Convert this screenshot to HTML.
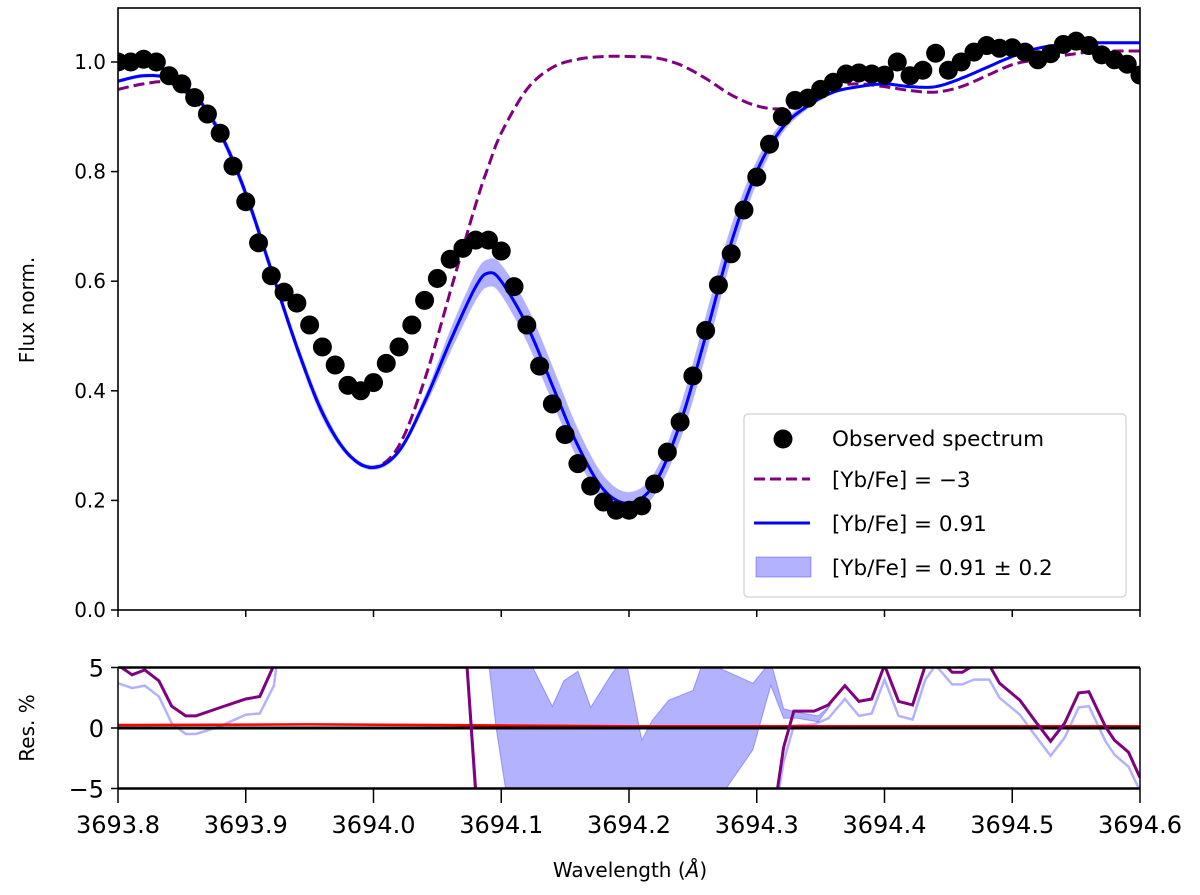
<!DOCTYPE html>
<html><head><meta charset="utf-8"><style>
html,body{margin:0;padding:0;background:#fff;}
svg{display:block;font-family:"DejaVu Sans","Liberation Sans",sans-serif;}
</style></head><body>
<svg id="chart" width="1200" height="895" viewBox="0 0 1200 895">
<defs>
<clipPath id="clipMain"><rect x="118" y="8" width="1022" height="602"/></clipPath>
<clipPath id="clipRes"><rect x="118" y="667" width="1022" height="121"/></clipPath>
</defs>
<g id="main"></g>
<g id="res"></g>
</svg>
<script>
// ---- data ----
const obsWave = [3693.80,3693.81,3693.82,3693.83,3693.84,3693.85,3693.86,3693.87,3693.88,3693.89,3693.90,3693.91,3693.92,3693.93,3693.94,3693.95,3693.96,3693.97,3693.98,3693.99,3694.00,3694.01,3694.02,3694.03,3694.04,3694.05,3694.06,3694.07,3694.08,3694.09,3694.10,3694.11,3694.12,3694.13,3694.14,3694.15,3694.16,3694.17,3694.18,3694.19,3694.20,3694.21,3694.22,3694.23,3694.24,3694.25,3694.26,3694.27,3694.28,3694.29,3694.30,3694.31,3694.32,3694.33,3694.34,3694.35,3694.36,3694.37,3694.38,3694.39,3694.40,3694.41,3694.42,3694.43,3694.44,3694.45,3694.46,3694.47,3694.48,3694.49,3694.50,3694.51,3694.52,3694.53,3694.54,3694.55,3694.56,3694.57,3694.58,3694.59,3694.60];
const obsFlux = [1.0,1.0,1.005,1.0,0.975,0.96,0.935,0.905,0.87,0.81,0.745,0.67,0.61,0.58,0.56,0.52,0.48,0.447,0.41,0.40,0.415,0.45,0.48,0.52,0.565,0.605,0.64,0.66,0.675,0.675,0.655,0.59,0.52,0.445,0.376,0.32,0.267,0.226,0.197,0.182,0.182,0.19,0.23,0.288,0.343,0.427,0.51,0.593,0.65,0.73,0.79,0.85,0.90,0.93,0.934,0.95,0.963,0.978,0.98,0.978,0.976,1.0,0.975,0.985,1.016,0.985,1.0,1.018,1.03,1.025,1.026,1.018,1.004,1.015,1.032,1.038,1.03,1.013,1.004,0.996,0.976];
const modWave = [3693.80,3693.82,3693.84,3693.86,3693.88,3693.90,3693.92,3693.94,3693.96,3693.98,3694.00,3694.02,3694.04,3694.06,3694.08,3694.09,3694.10,3694.12,3694.14,3694.16,3694.18,3694.20,3694.22,3694.24,3694.26,3694.28,3694.30,3694.32,3694.34,3694.36,3694.38,3694.40,3694.42,3694.44,3694.46,3694.48,3694.50,3694.52,3694.54,3694.56,3694.58,3694.60];
const bestFlux = [0.965,0.975,0.97,0.94,0.87,0.76,0.62,0.48,0.36,0.285,0.26,0.29,0.38,0.49,0.59,0.615,0.60,0.52,0.41,0.30,0.22,0.195,0.23,0.34,0.50,0.67,0.80,0.88,0.92,0.945,0.955,0.96,0.955,0.955,0.97,0.99,1.01,1.025,1.032,1.035,1.035,1.035];
const bandHi = [0.968,0.978,0.973,0.945,0.878,0.77,0.63,0.49,0.37,0.29,0.264,0.295,0.39,0.51,0.615,0.64,0.63,0.555,0.445,0.33,0.245,0.215,0.25,0.37,0.535,0.70,0.82,0.89,0.925,0.948,0.957,0.962,0.957,0.957,0.972,0.992,1.012,1.027,1.034,1.037,1.037,1.037];
const bandLo = [0.962,0.972,0.967,0.935,0.862,0.75,0.61,0.47,0.35,0.28,0.256,0.285,0.37,0.47,0.565,0.59,0.575,0.49,0.38,0.275,0.20,0.178,0.21,0.31,0.465,0.64,0.78,0.87,0.915,0.942,0.953,0.958,0.953,0.953,0.968,0.988,1.008,1.023,1.030,1.033,1.033,1.033];
const lowFlux = [0.95,0.96,0.962,0.93,0.87,0.76,0.62,0.48,0.36,0.285,0.26,0.30,0.42,0.58,0.74,0.81,0.87,0.95,0.99,1.005,1.01,1.01,1.008,0.995,0.97,0.94,0.92,0.915,0.93,0.955,0.96,0.955,0.948,0.945,0.955,0.975,0.995,1.005,1.012,1.018,1.02,1.02];
const resWave = [3693.80,3693.811,3693.821,3693.832,3693.842,3693.853,3693.861,3693.879,3693.90,3693.911,3693.922,3693.93,3694.07,3694.08,3694.09,3694.31,3694.316,3694.321,3694.329,3694.345,3694.356,3694.369,3694.38,3694.39,3694.40,3694.411,3694.422,3694.432,3694.44,3694.453,3694.461,3694.47,3694.482,3694.49,3694.506,3694.517,3694.53,3694.541,3694.552,3694.56,3694.573,3694.58,3694.591,3694.60];
const resLow = [5.2,4.4,4.8,3.9,1.8,1.0,1.0,1.65,2.4,2.6,5.2,10,10,-5.2,-10,-10,-5.2,-1.6,1.4,1.4,1.9,3.5,2.2,2.4,5.2,2.2,1.9,5.2,6,4.6,4.6,5.2,5.2,3.7,2.3,0.7,-1.1,0.4,2.9,3.0,0.1,-1.0,-2.0,-4.1];
const resBandLo = [3.7,3.3,3.5,2.6,0.4,-0.5,-0.5,0.1,1.1,1.2,3.5,10,10,-6,-10,-10,-6,-2.8,0.2,0.3,0.8,2.4,1.0,1.2,4.0,1.0,0.7,4.0,5.2,3.6,3.6,4.0,4.0,2.5,1.1,-0.5,-2.3,-0.8,1.7,1.8,-1.1,-2.2,-3.2,-5.2];
const bandResWave = [3694.09,3694.096,3694.104,3694.12,3694.14,3694.149,3694.16,3694.17,3694.186,3694.197,3694.21,3694.218,3694.231,3694.25,3694.258,3694.276,3694.297,3694.311,3694.321,3694.332,3694.348,3694.358];
const bandResHi = [6,6,6,6,1.8,3.9,4.7,1.7,4.4,6,-1.0,0.6,2.3,3.1,5.5,4.7,3.7,5.5,1.6,1.3,1.0,1.9];
const bandResLo = [5.5,0,-5.5,-10,-10,-10,-10,-10,-10,-10,-10,-10,-10,-10,-10,-5,-1.8,3.5,0.8,0.8,0.5,1.9];
const refWave = [3693.80,3693.95,3694.05,3694.20,3694.40,3694.60];
const refRes = [0.25,0.3,0.25,0.15,0.15,0.15];
const xTicks = [3693.8,3693.9,3694.0,3694.1,3694.2,3694.3,3694.4,3694.5,3694.6];
const xTickLabels = ["3693.8","3693.9","3694.0","3694.1","3694.2","3694.3","3694.4","3694.5","3694.6"];
const yTicks = [0.0,0.2,0.4,0.6,0.8,1.0];
const yTickLabels = ["0.0","0.2","0.4","0.6","0.8","1.0"];
const rTicks = [5,0,-5];
const rTickLabels = ["5","0","\u22125"];

// ---- scales ----
const X0=118,X1=1140;
const sx = w => X0 + (w-3693.8)/(0.8)*(X1-X0);
const sy = f => 610 - f*548;
const sr = r => 728 - r*12.1;
const NS="http://www.w3.org/2000/svg";
function mk(parent, tag, attrs){const e=document.createElementNS(NS,tag);for(const k in attrs)e.setAttribute(k,attrs[k]);parent.appendChild(e);return e;}
const main=document.getElementById('main');
const res=document.getElementById('res');
const lineD=(xs,ys,fx,fy)=>xs.map((x,i)=>(i?'L':'M')+fx(x).toFixed(1)+','+fy(ys[i]).toFixed(1)).join('');
function smoothPts(xs,ys,fx,fy){
  const p=xs.map((x,i)=>[fx(x),fy(ys[i])]);const out=[];
  for(let i=0;i<p.length-1;i++){
    const p0=p[Math.max(0,i-1)],p1=p[i],p2=p[i+1],p3=p[Math.min(p.length-1,i+2)];
    for(let k=0;k<8;k++){const t=k/8,t2=t*t,t3=t2*t;
      const f=(a,b,c,d)=>0.5*((2*b)+(-a+c)*t+(2*a-5*b+4*c-d)*t2+(-a+3*b-3*c+d)*t3);
      out.push([f(p0[0],p1[0],p2[0],p3[0]),f(p0[1],p1[1],p2[1],p3[1])]);}
  }
  out.push(p[p.length-1]);return out;
}
const smoothD=(xs,ys,fx,fy)=>smoothPts(xs,ys,fx,fy).map((q,i)=>(i?'L':'M')+q[0].toFixed(1)+','+q[1].toFixed(1)).join('');
function smoothBand(xs,hi,lo,fx,fy){
  const a=smoothPts(xs,hi,fx,fy),b=smoothPts(xs,lo,fx,fy).reverse();
  return a.concat(b).map((q,i)=>(i?'L':'M')+q[0].toFixed(1)+','+q[1].toFixed(1)).join('')+'Z';
}
const bandD=(xs,hi,lo,fx,fy)=>{let d=xs.map((x,i)=>(i?'L':'M')+fx(x).toFixed(1)+','+fy(hi[i]).toFixed(1)).join('');for(let i=xs.length-1;i>=0;i--)d+='L'+fx(xs[i]).toFixed(1)+','+fy(lo[i]).toFixed(1);return d+'Z';};

// ---- main panel ----
const gm=mk(main,'g',{'clip-path':'url(#clipMain)'});
let e=mk(gm,'path',{d:smoothBand(modWave,bandHi,bandLo,sx,sy),fill:'#0000ff',opacity:'0.3',stroke:'#0000ff','stroke-opacity':'0.3'});


e=mk(gm,'path',{d:smoothD(modWave,lowFlux,sx,sy),fill:'none',stroke:'#800080','stroke-width':'3','stroke-dasharray':'11,5'});


e=mk(gm,'path',{d:smoothD(modWave,bestFlux,sx,sy),fill:'none',stroke:'#0000ff','stroke-width':'3'});


obsWave.forEach((w,i)=>{
  const c=mk(gm,'circle',{cx:sx(w),cy:sy(obsFlux[i]),r:9.5,fill:'#000'});
  
  
});
e=mk(main,'rect',{x:X0,y:8,width:X1-X0,height:602,fill:'none',stroke:'#000','stroke-width':'1.6'});


yTicks.forEach((t,i)=>{
  mk(main,'line',{x1:X0-7,x2:X0,y1:sy(t),y2:sy(t),stroke:'#000','stroke-width':'1.5'});
  const tx=mk(main,'text',{x:X0-12,y:sy(t)+7,'text-anchor':'end','font-size':'20',fill:'#000'});
  tx.textContent=yTickLabels[i];
  
  
});
xTicks.forEach(t=>{mk(main,'line',{x1:sx(t),x2:sx(t),y1:610,y2:617,stroke:'#000','stroke-width':'1.5'});});
e=mk(main,'text',{x:0,y:0,'text-anchor':'middle','font-size':'20',transform:'translate(34,310) rotate(-90)'});
e.textContent='Flux norm.';



// legend
const lg=mk(main,'g',{});


mk(lg,'rect',{x:744,y:414,width:382,height:183,rx:4,fill:'#fff','fill-opacity':'0.85',stroke:'#d0d0d0','stroke-width':'1.2'});
mk(lg,'circle',{cx:783,cy:439,r:9.5,fill:'#000'});
mk(lg,'line',{x1:754,x2:810,y1:479,y2:479,stroke:'#800080','stroke-width':'3','stroke-dasharray':'11,5'});
mk(lg,'line',{x1:754,x2:810,y1:523,y2:523,stroke:'#0000ff','stroke-width':'3'});
mk(lg,'rect',{x:756,y:557,width:55,height:20,fill:'#0000ff','fill-opacity':'0.3',stroke:'#0000ff','stroke-opacity':'0.3'});
[["Observed spectrum",446],["[Yb/Fe] = \u22123",487],["[Yb/Fe] = 0.91",531],["[Yb/Fe] = 0.91 \u00b1 0.2",575]].forEach(([t,y])=>{
  const tx=mk(lg,'text',{x:832,y:y,'font-size':'21.5',fill:'#000'});
  tx.textContent=t;
  
  
});

// ---- residual panel ----
const gr=mk(res,'g',{'clip-path':'url(#clipRes)'});
e=mk(gr,'path',{d:bandD(bandResWave,bandResHi,bandResLo,sx,sr),fill:'#0000ff','fill-opacity':'0.3',stroke:'#0000ff','stroke-opacity':'0.3'});


e=mk(gr,'path',{d:lineD(resWave,resBandLo,sx,sr),fill:'none',stroke:'#0000ff','stroke-opacity':'0.3','stroke-width':'2.5'});


e=mk(gr,'path',{d:lineD(refWave,refRes,sx,sr),fill:'none',stroke:'#ff0000','stroke-width':'2.5'});


e=mk(gr,'line',{x1:X0,x2:X1,y1:sr(0),y2:sr(0),stroke:'#000','stroke-width':'3'});


e=mk(gr,'path',{d:lineD(resWave,resLow,sx,sr),fill:'none',stroke:'#800080','stroke-width':'3'});


mk(res,'line',{x1:X0,x2:X1,y1:sr(5),y2:sr(5),stroke:'#000','stroke-width':'2.5'});
mk(res,'line',{x1:X0,x2:X1,y1:sr(-5),y2:sr(-5),stroke:'#000','stroke-width':'2.5'});
mk(res,'line',{x1:X0,x2:X0,y1:sr(5),y2:sr(-5),stroke:'#000','stroke-width':'1.5'});
mk(res,'line',{x1:X1,x2:X1,y1:sr(5),y2:sr(-5),stroke:'#000','stroke-width':'1.5'});
rTicks.forEach((t,i)=>{
  mk(res,'line',{x1:X0-7,x2:X0,y1:sr(t),y2:sr(t),stroke:'#000','stroke-width':'1.5'});
  const tx=mk(res,'text',{x:X0-14,y:sr(t)+9,'text-anchor':'end','font-size':'24',fill:'#000'});
  tx.textContent=rTickLabels[i];
  
  
});
xTicks.forEach((t,i)=>{
  mk(res,'line',{x1:sx(t),x2:sx(t),y1:788,y2:803,stroke:'#000','stroke-width':'1.5'});
  const tx=mk(res,'text',{x:sx(t),y:833,'text-anchor':'middle','font-size':'24',fill:'#000'});
  tx.textContent=xTickLabels[i];
  
  
});
e=mk(res,'text',{x:0,y:0,'text-anchor':'middle','font-size':'20',transform:'translate(34,728) rotate(-90)'});
e.textContent='Res. %';


e=mk(res,'text',{x:630,y:877,'text-anchor':'middle','font-size':'20'});
e.innerHTML='Wavelength (<tspan font-style="italic">\u00c5</tspan>)';


</script>
</body></html>
